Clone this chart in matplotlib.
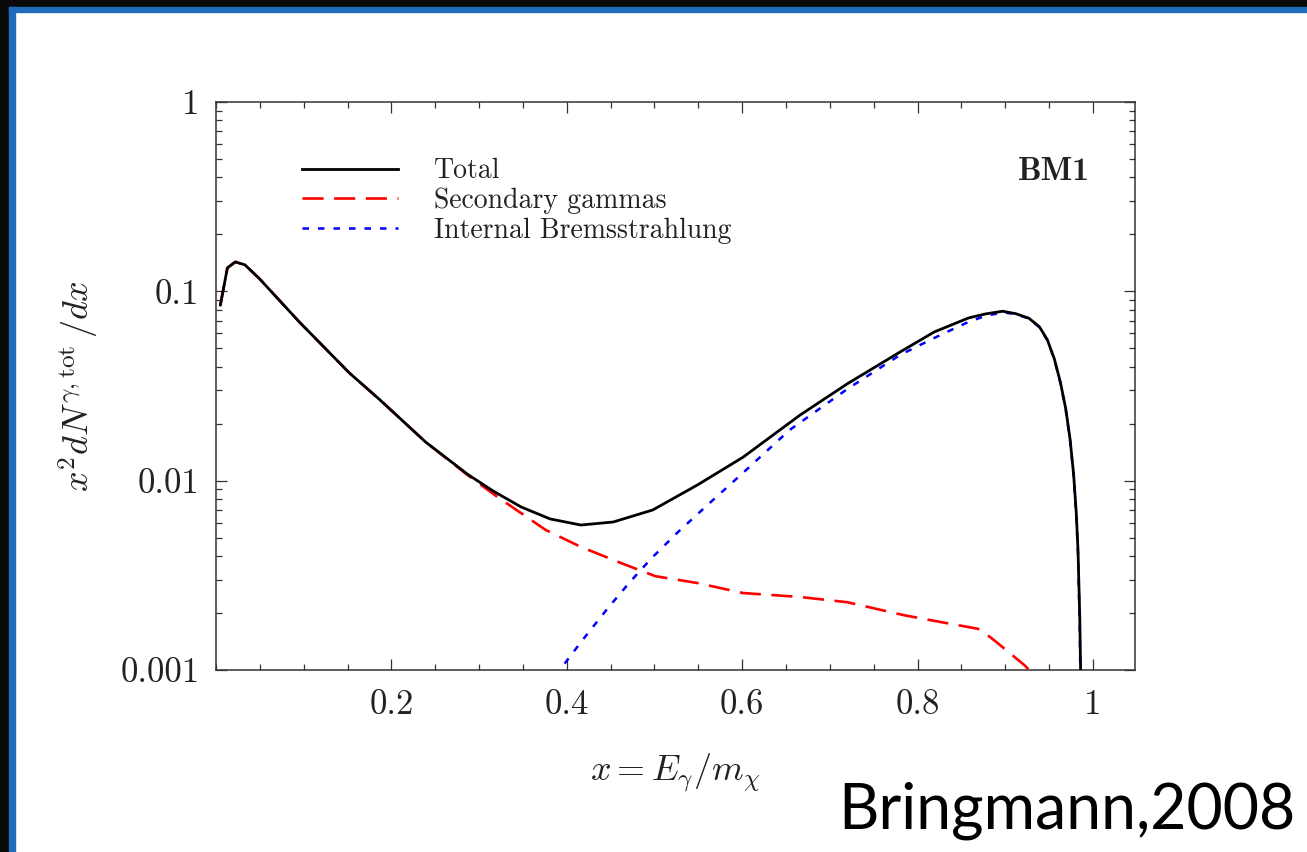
import matplotlib
matplotlib.use('Agg')
import matplotlib.pyplot as plt
from matplotlib.patches import Rectangle
from matplotlib.ticker import LogLocator, MultipleLocator, NullFormatter

plt.rcParams['mathtext.fontset'] = 'cm'
plt.rcParams['font.family'] = 'serif'
plt.rcParams['font.serif'] = ['cmr10', 'DejaVu Serif']
plt.rcParams['axes.unicode_minus'] = False

# values
x_total = [0.005, 0.013, 0.022, 0.033, 0.050, 0.095, 0.152, 0.187, 0.239, 0.287,
           0.316, 0.348, 0.381, 0.416, 0.453, 0.498, 0.549, 0.601, 0.666, 0.72,
           0.780, 0.819, 0.858, 0.877, 0.897, 0.912, 0.927, 0.939, 0.948, 0.956,
           0.963, 0.969, 0.974, 0.978, 0.981, 0.983, 0.985, 0.987]
y_total = [0.0847, 0.133, 0.143, 0.138, 0.116, 0.0689, 0.0371, 0.0267, 0.0160, 0.0108,
           0.00882, 0.00726, 0.00628, 0.00583, 0.00605, 0.0070, 0.00949, 0.0133, 0.0222, 0.0325,
           0.0478, 0.061, 0.0723, 0.0759, 0.0785, 0.0762, 0.0721, 0.065, 0.0555, 0.0440,
           0.0330, 0.0240, 0.0165, 0.0108, 0.0068, 0.0043, 0.0019, 0.0005]

x_second = [0.005, 0.013, 0.022, 0.033, 0.050, 0.095, 0.152, 0.187, 0.239, 0.287,
            0.321, 0.376, 0.416, 0.462, 0.501, 0.549, 0.601, 0.666, 0.72, 0.784,
            0.827, 0.869, 0.883, 0.897, 0.922, 0.929]
y_second = [0.0847, 0.133, 0.143, 0.138, 0.116, 0.0689, 0.0371, 0.0267, 0.0160, 0.0107,
            0.0082, 0.00549, 0.00447, 0.00367, 0.00313, 0.00288, 0.00255, 0.00243, 0.00228, 0.00195,
            0.00179, 0.00165, 0.00149, 0.00132, 0.00106, 0.00098]

x_ib = [0.385, 0.392, 0.418, 0.445, 0.471, 0.497, 0.527, 0.558, 0.601, 0.654,
        0.72, 0.780, 0.819, 0.858, 0.877, 0.897, 0.912, 0.927, 0.939, 0.948,
        0.956, 0.963, 0.969, 0.974, 0.978, 0.981, 0.983, 0.985, 0.9855, 0.986]
y_ib = [0.00095, 0.001, 0.00144, 0.00207, 0.00288, 0.00391, 0.00536, 0.00726, 0.0110, 0.0185,
        0.0305, 0.0461, 0.0567, 0.0689, 0.0740, 0.0775, 0.0758, 0.0718, 0.0645, 0.0552,
        0.0437, 0.0328, 0.0238, 0.0163, 0.0106, 0.0066, 0.0041, 0.0017, 0.00109, 0.0005]

xticks = [0.2, 0.4, 0.6, 0.8, 1.0]
xtick_labels = ['0.2', '0.4', '0.6', '0.8', '1']
yticks = [0.001, 0.01, 0.1, 1]
ytick_labels = ['0.001', '0.01', '0.1', '1']

W, H = 1307, 852
fig = plt.figure(figsize=(W / 100, H / 100), dpi=100)
fig.patch.set_facecolor('white')

# slide frame
blue = '#1f6cbb'
fig.patches.append(Rectangle((0, 1 - 7 / H), 1, 7 / H, transform=fig.transFigure, color='#0a0a0a', zorder=0))
fig.patches.append(Rectangle((0, 0), 9 / W, 1, transform=fig.transFigure, color='#0a0a0a', zorder=0))
fig.patches.append(Rectangle((9 / W, 1 - 12 / H), 1, 5 / H, transform=fig.transFigure, color=blue, zorder=0))
fig.patches.append(Rectangle((9 / W, 0), 6 / W, 1 - 7 / H, transform=fig.transFigure, color=blue, zorder=0))

ax = fig.add_axes([216 / W, 1 - 670 / H, (1135 - 216) / W, (670 - 102) / H])

ax.plot(x_total, y_total, color='black', lw=2.0, label='Total', zorder=4)
ax.plot(x_second, y_second, color='red', lw=1.9, dashes=(8, 4), label='Secondary gammas', zorder=3)
ax.plot(x_ib, y_ib, color='blue', lw=1.8, dashes=(2.6, 3.6), label='Internal Bremsstrahlung', zorder=3)

ax.set_yscale('log')
ax.set_xlim(0, 1.048)
ax.set_ylim(0.001, 1)

ax.set_xticks(xticks)
ax.set_xticklabels(xtick_labels)
ax.xaxis.set_minor_locator(MultipleLocator(0.05))
ax.set_yticks(yticks)
ax.set_yticklabels(ytick_labels)
ax.yaxis.set_minor_locator(LogLocator(base=10, subs=range(2, 10)))
ax.yaxis.set_minor_formatter(NullFormatter())

txt = '#222222'
ax.tick_params(which='both', direction='in', top=True, right=True, color='#333333', width=0.9)
ax.tick_params(which='major', length=8, labelsize=25, labelcolor=txt, pad=12)
ax.tick_params(which='minor', length=4.5)
ax.tick_params(axis='x', which='major', pad=14)
for s in ax.spines.values():
    s.set_linewidth(1.1)
    s.set_color('#333333')

ax.set_xlabel(r'$x = E_\gamma/m_\chi$', fontsize=26, color=txt, labelpad=22)
ax.set_ylabel(r'$x^2dN^{\gamma,\mathrm{tot}}\,/dx$', fontsize=26, color=txt, labelpad=14)

ax.text(0.951, 0.877, 'BM1', transform=ax.transAxes, fontsize=24, color=txt,
        family=['cmb10', 'DejaVu Serif'], ha='right', va='center')

leg = ax.legend(loc='upper left', bbox_to_anchor=(302 / W, 1 - 158 / H), bbox_transform=fig.transFigure,
                frameon=False, fontsize=20, handlelength=3.45, handletextpad=1.3,
                labelspacing=0.12, borderpad=0, borderaxespad=0)
for t in leg.get_texts():
    t.set_color(txt)

fig.text(1295 / W, 1 - 828 / H, 'Bringmann,2008', fontsize=45, family=['Lato', 'DejaVu Sans'],
         color='black', ha='right', va='baseline')

fig.savefig('out.png', dpi=100)
